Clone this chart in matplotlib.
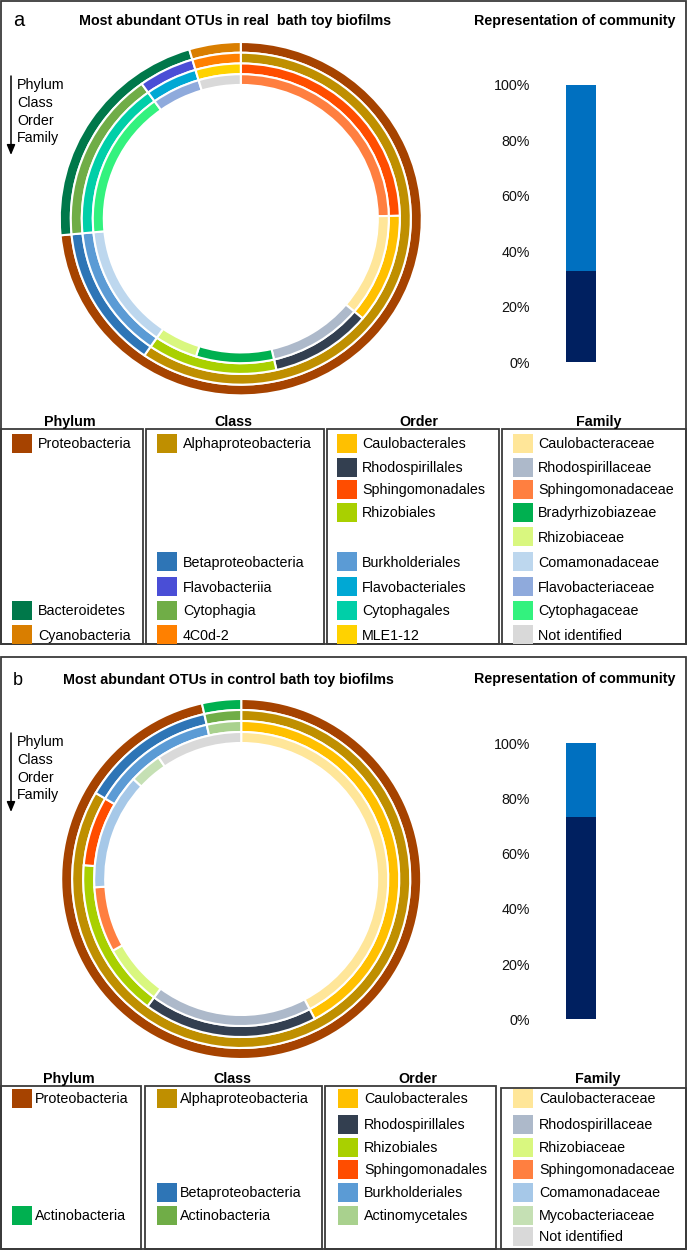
import matplotlib
matplotlib.use('Agg')
import matplotlib.pyplot as plt
from matplotlib.patches import Rectangle, FancyArrowPatch

W, H = 687, 1250
DPI = 100
plt.rcParams['font.family'] = ['Liberation Sans', 'DejaVu Sans']
FS = 10.3

# ---------------- Panel a data (ring order, clockwise from top) ----------------
a_phylum_labels = ['Proteobacteria', 'Bacteroidetes', 'Cyanobacteria']
a_phylum_values = [73.5, 21.9, 4.6]
a_phylum_colors = ['#A64300', '#00784A', '#D97E00']

a_class_labels = ['Alphaproteobacteria', 'Betaproteobacteria', 'Cytophagia', 'Flavobacteriia', '4C0d-2']
a_class_values = [59.6, 13.9, 16.6, 5.3, 4.6]
a_class_colors = ['#BF8F00', '#2E75B6', '#70AD47', '#4A4ED6', '#FF8000']

a_order_labels = ['Sphingomonadales', 'Caulobacterales', 'Rhodospirillales', 'Rhizobiales',
                  'Burkholderiales', 'Cytophagales', 'Flavobacteriales', 'MLE1-12']
a_order_values = [24.7, 11.4, 10.3, 13.2, 13.9, 16.6, 5.3, 4.6]
a_order_colors = ['#FF4D00', '#FFC000', '#333F50', '#A9D000', '#5B9BD5', '#00CFA8', '#00A8D4', '#FFD200']

a_family_labels = ['Sphingomonadaceae', 'Caulobacteraceae', 'Rhodospirillaceae', 'Bradyrhizobiazeae',
                   'Rhizobiaceae', 'Comamonadaceae', 'Cytophagaceae', 'Flavobacteriaceae', 'Not identified']
a_family_values = [24.7, 11.4, 10.3, 8.5, 4.7, 13.9, 16.6, 5.3, 4.6]
a_family_colors = ['#FF7F40', '#FFE699', '#ADB9CA', '#00B050', '#D9F77F', '#BDD7EE', '#33F27E', '#8FAADC', '#D9D9D9']

a_community = [32.9, 67.1]

# legend order (label, row)
a_leg_phylum = ['Proteobacteria', 'Bacteroidetes', 'Cyanobacteria']
a_leg_phylum_rows = [0, 7, 8]
a_leg_class = ['Alphaproteobacteria', 'Betaproteobacteria', 'Flavobacteriia', 'Cytophagia', '4C0d-2']
a_leg_class_rows = [0, 5, 6, 7, 8]
a_leg_order = ['Caulobacterales', 'Rhodospirillales', 'Sphingomonadales', 'Rhizobiales',
               'Burkholderiales', 'Flavobacteriales', 'Cytophagales', 'MLE1-12']
a_leg_order_rows = [0, 1, 2, 3, 5, 6, 7, 8]
a_leg_family = ['Caulobacteraceae', 'Rhodospirillaceae', 'Sphingomonadaceae', 'Bradyrhizobiazeae',
                'Rhizobiaceae', 'Comamonadaceae', 'Flavobacteriaceae', 'Cytophagaceae', 'Not identified']
a_leg_family_rows = [0, 1, 2, 3, 4, 5, 6, 7, 8]

# ---------------- Panel b data ----------------
b_phylum_labels = ['Proteobacteria', 'Actinobacteria']
b_phylum_values = [96.5, 3.5]
b_phylum_colors = ['#A64300', '#00B050']

b_class_labels = ['Alphaproteobacteria', 'Betaproteobacteria', 'Actinobacteria']
b_class_values = [83.5, 13.0, 3.5]
b_class_colors = ['#BF8F00', '#2E75B6', '#70AD47']

b_order_labels = ['Caulobacterales', 'Rhodospirillales', 'Rhizobiales', 'Sphingomonadales',
                  'Burkholderiales', 'Actinomycetales']
b_order_values = [42.3, 17.8, 16.3, 7.1, 13.0, 3.5]
b_order_colors = ['#FFC000', '#333F50', '#A9D000', '#FF4D00', '#5B9BD5', '#A9D18E']

b_family_labels = ['Caulobacteraceae', 'Rhodospirillaceae', 'Rhizobiaceae', 'Sphingomonadaceae',
                   'Comamonadaceae', 'Mycobacteriaceae', 'Not identified']
b_family_values = [42.3, 17.8, 6.8, 7.2, 12.8, 3.6, 9.5]
b_family_colors = ['#FFE699', '#ADB9CA', '#D9F77F', '#FF7F40', '#A6C8E8', '#C5E0B4', '#D9D9D9']

b_community = [73.4, 26.6]

b_leg_phylum = ['Proteobacteria', 'Actinobacteria']
b_leg_phylum_rows = [0, 5]
b_leg_class = ['Alphaproteobacteria', 'Betaproteobacteria', 'Actinobacteria']
b_leg_class_rows = [0, 4, 5]
b_leg_order = b_order_labels
b_leg_order_rows = [0, 1, 2, 3, 4, 5]
b_leg_family = b_family_labels
b_leg_family_rows = [0, 1, 2, 3, 4, 5, 6]

rank_names = ['Phylum', 'Class', 'Order', 'Family']
pct_ticks = [0, 20, 40, 60, 80, 100]
bar_colors = ['#002060', '#0070C0']

fig = plt.figure(figsize=(W / DPI, H / DPI), dpi=DPI)
EDGE = '#3A3A3A'


def fx(x):
    return x / W


def fy(y):
    return 1 - y / H


def rect_px(x0, y0, x1, y1, lw=1.3):
    fig.add_artist(Rectangle((fx(x0), fy(y1)), (x1 - x0) / W, (y1 - y0) / H,
                             transform=fig.transFigure, fill=False, lw=lw, ec=EDGE))


def text_px(x, y, s, **kw):
    kw.setdefault('fontsize', FS)
    fig.text(fx(x), fy(y), s, **kw)


def donut(cx, cy, rx, ry, rings):
    ax = fig.add_axes([fx(cx - rx), fy(cy + ry), 2 * rx / W, 2 * ry / H])
    pitch = 11.0 / rx
    for i, (vals, cols) in enumerate(rings):
        ax.pie(vals, colors=cols, radius=1 - i * pitch, startangle=90, counterclock=False,
               wedgeprops=dict(width=pitch, edgecolor='white', linewidth=1.5))
    ax.set_aspect('auto')
    ax.set_xlim(-1, 1)
    ax.set_ylim(-1, 1)
    ax.axis('off')


def stacked_bar(ytop, ybot, vals):
    ax = fig.add_axes([fx(566), fy(ybot), 30 / W, (ybot - ytop) / H])
    bottom = 0
    for v, c in zip(vals, bar_colors):
        ax.bar([0], [v], bottom=[bottom], width=1, color=c)
        bottom += v
    ax.set_xlim(-0.5, 0.5)
    ax.set_ylim(0, 100)
    ax.set_xticks([])
    ax.set_yticks(pct_ticks)
    ax.set_yticklabels([f'{t}%' for t in pct_ticks])
    ax.tick_params(axis='y', length=0, pad=(566 - 530) * 72 / DPI, labelsize=FS, labelcolor='#111111')
    for s in ax.spines.values():
        s.set_visible(False)


def legend(columns, row_ys, swatch_x, text_x):
    for (labels, rows, lookup), sx, tx in zip(columns, swatch_x, text_x):
        for lab, r in zip(labels, rows):
            yc = row_ys[r]
            fig.add_artist(Rectangle((fx(sx), fy(yc + 9.5)), 20 / W, 19 / H,
                                     transform=fig.transFigure, fc=lookup[lab], ec='none'))
            text_px(tx, yc + 5, lab, va='baseline', ha='left')


def rank_arrow(ytop, ybot, baselines):
    fig.add_artist(FancyArrowPatch((fx(11), fy(ytop)), (fx(11), fy(ybot)), transform=fig.transFigure,
                                   arrowstyle='-|>,head_length=0.6,head_width=0.25', mutation_scale=10,
                                   lw=1.1, color='black', shrinkA=0, shrinkB=0))
    for name, b in zip(rank_names, baselines):
        text_px(17, b, name, va='baseline', ha='left')


# ================= Panel a =================
rect_px(0.7, 0.7, 686.3, 644)
text_px(13, 26, 'a', fontsize=14.5, va='baseline')
text_px(235, 25, 'Most abundant OTUs in real  bath toy biofilms', fontweight='bold', ha='center', va='baseline')
text_px(575, 25, 'Representation of community', fontweight='bold', ha='center', va='baseline')
rank_arrow(76, 155, [89, 107, 125, 142])
donut(240.8, 218.7, 181, 176.7, [(a_phylum_values, a_phylum_colors), (a_class_values, a_class_colors),
                                 (a_order_values, a_order_colors), (a_family_values, a_family_colors)])
stacked_bar(85, 362.3, a_community)

hx = [70, 233, 419, 599]
for n, x in zip(rank_names, hx):
    text_px(x, 426, n, fontweight='bold', ha='center', va='baseline')
for x0, x1 in [(0.7, 142.5), (145.5, 323.5), (326.5, 498.5), (502, 686.3)]:
    rect_px(x0, 429, x1, 644)
a_rows = [443, 467, 489.5, 512.5, 536.5, 561.5, 586.5, 610.5, 634.5]
legend([(a_leg_phylum, a_leg_phylum_rows, dict(zip(a_phylum_labels, a_phylum_colors))),
        (a_leg_class, a_leg_class_rows, dict(zip(a_class_labels, a_class_colors))),
        (a_leg_order, a_leg_order_rows, dict(zip(a_order_labels, a_order_colors))),
        (a_leg_family, a_leg_family_rows, dict(zip(a_family_labels, a_family_colors)))],
       a_rows, [12, 157, 337, 513], [38, 183, 362, 538])

# ================= Panel b =================
rect_px(0.7, 657, 686.3, 1249.3)
text_px(13, 685, 'b', fontsize=13, va='baseline')
text_px(228, 684, 'Most abundant OTUs in control bath toy biofilms', fontweight='bold', ha='center', va='baseline')
text_px(575, 683, 'Representation of community', fontweight='bold', ha='center', va='baseline')
rank_arrow(733, 812, [746, 764, 782, 799])
donut(241.2, 879, 180, 180, [(b_phylum_values, b_phylum_colors), (b_class_values, b_class_colors),
                             (b_order_values, b_order_colors), (b_family_values, b_family_colors)])
stacked_bar(743.3, 1019.3, b_community)

for n, x in zip(rank_names, [69, 232, 418, 598]):
    text_px(x, 1083, n, fontweight='bold', ha='center', va='baseline')
for x0, x1, yt in [(0.7, 141, 1086), (145, 321.5, 1086), (324.6, 495.6, 1086), (501, 686.3, 1088)]:
    rect_px(x0, yt, x1, 1249.3)
b_rows = [1098, 1124, 1147, 1169, 1192, 1215, 1236]
legend([(b_leg_phylum, b_leg_phylum_rows, dict(zip(b_phylum_labels, b_phylum_colors))),
        (b_leg_class, b_leg_class_rows, dict(zip(b_class_labels, b_class_colors))),
        (b_leg_order, b_leg_order_rows, dict(zip(b_order_labels, b_order_colors))),
        (b_leg_family, b_leg_family_rows, dict(zip(b_family_labels, b_family_colors)))],
       b_rows, [12, 157, 338, 513], [35, 180, 364, 539])

fig.savefig('out.png', dpi=DPI)
